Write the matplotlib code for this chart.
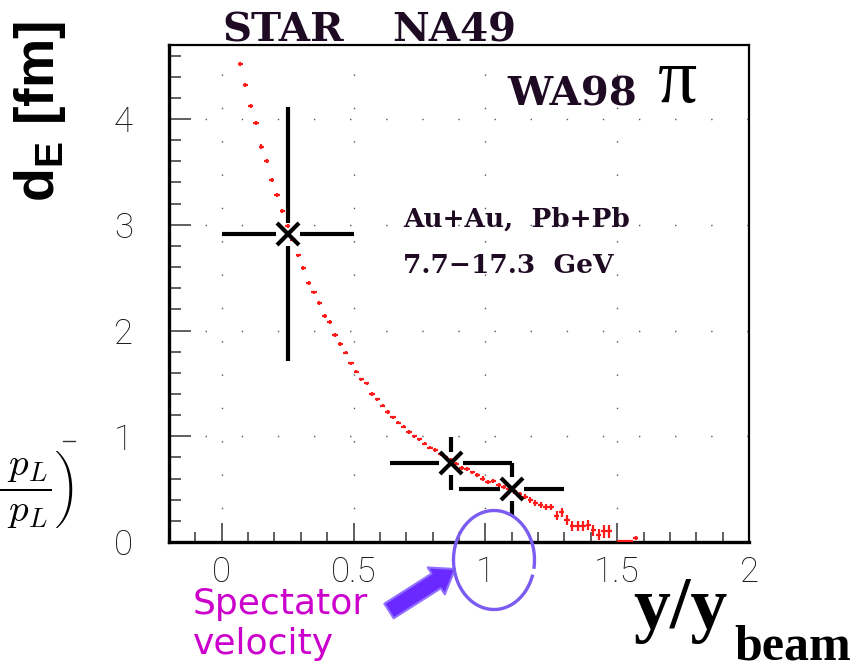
import numpy as np
import matplotlib
matplotlib.use("Agg")
import matplotlib.pyplot as plt
from matplotlib.patches import Arc
from matplotlib.lines import Line2D

plt.rcParams["mathtext.bf"] = "Liberation Sans:bold"
plt.rcParams["mathtext.rm"] = "Liberation Sans:bold"

# model curve (red histogram), y/y_beam bins of 0.02
curve_x = [0.07, 0.09, 0.11, 0.13, 0.15, 0.17, 0.19, 0.21, 0.23, 0.25,
           0.27, 0.29, 0.31, 0.33, 0.35, 0.37, 0.39, 0.41, 0.43, 0.45,
           0.47, 0.49, 0.51, 0.53, 0.55, 0.57, 0.59, 0.61, 0.63, 0.65,
           0.67, 0.69, 0.71, 0.73, 0.75, 0.77, 0.79, 0.81, 0.83, 0.85,
           0.87, 0.89, 0.91, 0.93, 0.95, 0.97, 0.99, 1.01, 1.03, 1.05,
           1.07, 1.09, 1.11, 1.13, 1.15, 1.17, 1.19, 1.21, 1.23, 1.25,
           1.27, 1.29, 1.31, 1.33, 1.35, 1.37, 1.39, 1.41, 1.43, 1.45,
           1.47, 1.51, 1.53, 1.55, 1.57]
curve_y = [4.52, 4.32, 4.12, 3.96, 3.74, 3.60, 3.42, 3.28, 3.13, 2.99,
           2.86, 2.71, 2.59, 2.45, 2.36, 2.26, 2.14, 2.08, 1.96, 1.87,
           1.79, 1.69, 1.61, 1.54, 1.50, 1.40, 1.35, 1.29, 1.23, 1.18,
           1.13, 1.09, 1.04, 1.00, 0.97, 0.93, 0.89, 0.87, 0.83, 0.80,
           0.78, 0.74, 0.70, 0.69, 0.66, 0.63, 0.60, 0.57, 0.58, 0.54,
           0.52, 0.50, 0.48, 0.45, 0.43, 0.40, 0.37, 0.35, 0.33, 0.33,
           0.25, 0.28, 0.21, 0.15, 0.15, 0.15, 0.16, 0.11, 0.07, 0.10,
           0.10, 0.01, 0.01, 0.01, 0.04]
curve_err = [0.02, 0.02, 0.02, 0.02, 0.02, 0.02, 0.02, 0.02, 0.02, 0.02,
             0.018, 0.018, 0.018, 0.018, 0.018, 0.018, 0.018, 0.018, 0.018, 0.018,
             0.015, 0.015, 0.015, 0.015, 0.015, 0.015, 0.015, 0.015, 0.015, 0.015,
             0.015, 0.015, 0.015, 0.015, 0.015, 0.015, 0.015, 0.015, 0.015, 0.015,
             0.015, 0.015, 0.015, 0.015, 0.015, 0.02, 0.02, 0.02, 0.02, 0.02,
             0.02, 0.02, 0.025, 0.025, 0.025, 0.03, 0.03, 0.03, 0.03, 0.03,
             0.04, 0.04, 0.045, 0.045, 0.045, 0.05, 0.05, 0.05, 0.05, 0.06,
             0.06, 0.01, 0.01, 0.01, 0.02]
tail_x = [1.49, 2.0]
tail_y = [0.0, 0.0]

# measurements: STAR, NA49, WA98
meas_x = [0.25, 0.87, 1.10]
meas_y = [2.91, 0.745, 0.50]
meas_xerr = [0.25, 0.23, 0.20]
meas_yerr = [1.20, 0.25, 0.25]

W, H = 859, 664
fig = plt.figure(figsize=(W / 100, H / 100), dpi=100)
ax = fig.add_axes([169 / W, 1 - 542 / H, (749 - 169) / W, (542 - 45) / H])
ax.set_xlim(-0.2, 2.0)
ax.set_ylim(0, 4.7)

# dotted grid
for gx in [0, 0.5, 1.0, 1.5]:
    ax.axvline(gx, color="#555555", lw=1.0, ls=(0, (1, 23)), zorder=0)
for gy in [1, 2, 3, 4]:
    ax.axhline(gy, color="#555555", lw=1.0, ls=(0, (1, 25)), zorder=0)

# red model histogram
ax.plot(tail_x, tail_y, color="#ff2020", lw=1.4, zorder=2)
ax.errorbar(curve_x, curve_y, xerr=0.01, yerr=curve_err, fmt="none",
            ecolor="#ff1a1a", elinewidth=1.6, zorder=3)

# black points, bars stop short of the marker
gapx, gapy = 0.045, 0.11
for x, y, ex, ey in zip(meas_x, meas_y, meas_xerr, meas_yerr):
    ax.plot([x - ex, x - gapx], [y, y], color="k", lw=3, solid_capstyle="butt", zorder=4)
    ax.plot([x + gapx, x + ex], [y, y], color="k", lw=3, solid_capstyle="butt", zorder=4)
    ax.plot([x, x], [y + gapy, y + ey], color="k", lw=3, solid_capstyle="butt", zorder=4)
    ax.plot([x, x], [y - ey, y - gapy], color="k", lw=3, solid_capstyle="butt", zorder=4)
ax.plot(meas_x, meas_y, "x", color="k", ms=16, mew=3, zorder=5)

# axes frame and ticks
for side in ["left", "bottom"]:
    ax.spines[side].set_linewidth(2.4)
for side in ["top", "right"]:
    ax.spines[side].set_linewidth(1.6)
ax.set_xticks([0, 0.5, 1, 1.5, 2])
ax.set_xticklabels(["0", "0.5", "1", "1.5", "2"])
ax.set_xticks(np.arange(-0.1, 2.0, 0.1), minor=True)
ax.set_yticks([0, 1, 2, 3, 4])
ax.set_yticks(np.arange(0.2, 4.7, 0.2), minor=True)
ax.tick_params(axis="x", which="major", direction="in", length=14, width=1.2,
               color="#444444", pad=10, top=False)
ax.tick_params(axis="x", which="minor", direction="in", length=7, width=1.2,
               color="#444444", top=False)
ax.tick_params(axis="y", which="major", direction="in", length=16, width=1.2,
               color="#444444", pad=26, right=False)
ax.tick_params(axis="y", which="minor", direction="in", length=8.5, width=1.2,
               color="#444444", right=False)
for lab in ax.get_xticklabels() + ax.get_yticklabels():
    lab.set_fontfamily("Roboto")
    lab.set_fontweight("light")
    lab.set_fontsize(25)
    lab.set_color("#111111")

# experiment labels
dark = "#1e0a22"
fig.text(222 / W, 1 - 42 / H, "STAR", family="DejaVu Serif", weight="bold",
         fontsize=29, color=dark, ha="left", va="baseline")
fig.text(392 / W, 1 - 42 / H, "NA49", family="DejaVu Serif", weight="bold",
         fontsize=29, color=dark, ha="left", va="baseline")
fig.text(507 / W, 1 - 106 / H, "WA98", family="DejaVu Serif", weight="bold",
         fontsize=29, color=dark, ha="left", va="baseline")
fig.text(658 / W, 1 - 102 / H, "\u03c0", family="Liberation Serif", fontsize=56,
         color="black", ha="left", va="baseline")
fig.text(403 / W, 1 - 227 / H, "Au+Au,  Pb+Pb", family="DejaVu Serif",
         weight="bold", fontsize=19, color=dark, ha="left", va="baseline")
fig.text(403 / W, 1 - 273 / H, "7.7\u221217.3  GeV", family="DejaVu Serif",
         weight="bold", fontsize=19, color=dark, ha="left", va="baseline")

# axis titles
fig.text(40 / W, 1 - 112 / H, r"d$_\mathbf{E}$ [fm]", family="Liberation Sans",
         weight="bold", fontsize=40, rotation=90, ha="center", va="center",
         math_fontfamily="custom")
fig.text(633 / W, 1 - 628 / H, "y/y", family="Liberation Serif", weight="bold",
         fontsize=53, ha="left", va="baseline")
fig.text(734 / W, 1 - 659 / H, "beam", family="Liberation Serif", weight="bold",
         fontsize=36, ha="left", va="baseline")

# leftover fraction on the left edge
fig.text(73 / W, 1 - 489 / H, r"$\left(\dfrac{E+p_L}{E-p_L}\right)$",
         fontsize=28, math_fontfamily="cm", ha="right", va="center")
fig.add_artist(Line2D([63 / W, 75 / W], [1 - 441 / H, 1 - 441 / H],
                      transform=fig.transFigure, color="#333333", lw=1))

# spectator annotation
fig.text(193 / W, 1 - 587 / H, "Spectator\nvelocity", family="DejaVu Sans",
         fontsize=26, color="#cc00cc", ha="left", va="top", linespacing=1.22)
fig.add_artist(Arc((494 / W, 1 - 560 / H), 81 / W, 99 / H, theta1=-16, theta2=334,
                   transform=fig.transFigure, color="#7b5cf0", lw=2.4))
ax.annotate("", xy=(455, H - 569), xytext=(389, H - 611),
            xycoords="figure pixels", textcoords="figure pixels",
            arrowprops=dict(arrowstyle="simple,head_width=2.3,head_length=1.6,tail_width=1.25",
                            mutation_scale=10, fc="#6a2aff", ec="#9370ff", lw=1.5,
                            shrinkA=0, shrinkB=0))

fig.savefig("out.png", dpi=100)
